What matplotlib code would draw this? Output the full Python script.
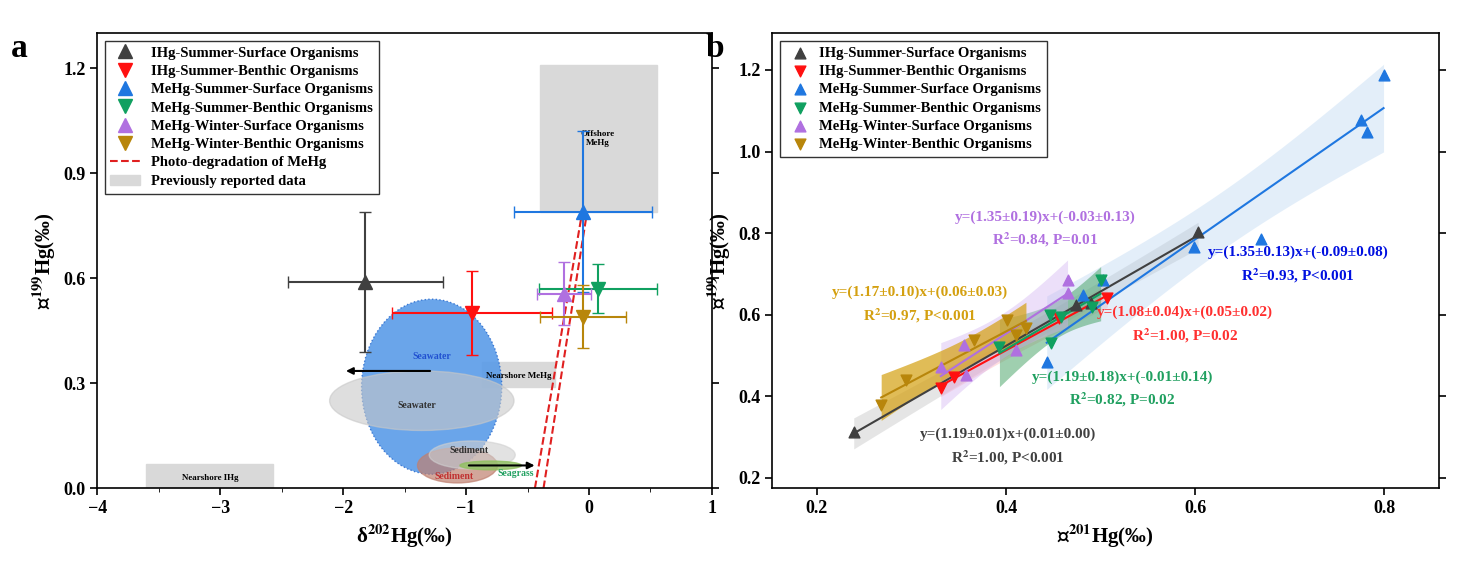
import numpy as np
import matplotlib.pyplot as plt
from matplotlib.patches import Ellipse, Rectangle
from matplotlib.lines import Line2D

plt.rcParams['font.family'] = ['Liberation Serif', 'DejaVu Sans']
plt.rcParams['font.weight'] = 'bold'
plt.rcParams['mathtext.fontset'] = 'stix'

# ---- panel a data ----
names_a = ['IHg-Summer-Surface Organisms', 'IHg-Summer-Benthic Organisms',
           'MeHg-Summer-Surface Organisms', 'MeHg-Summer-Benthic Organisms',
           'MeHg-Winter-Surface Organisms', 'MeHg-Winter-Benthic Organisms']
colors = ['#404040', '#ff1010', '#1f77e0', '#10a060', '#b070e0', '#b8860b']
markers = ['^', 'v', '^', 'v', '^', 'v']
d202 = [-1.82, -0.95, -0.05, 0.07, -0.20, -0.05]
d202_err = [0.63, 0.65, 0.56, 0.48, 0.22, 0.35]
D199 = [0.59, 0.50, 0.79, 0.57, 0.555, 0.49]
D199_err = [0.20, 0.12, 0.23, 0.07, 0.09, 0.09]

# ---- panel b data ----
b_x = [
    [0.239, 0.474, 0.49, 0.603],
    [0.331, 0.345, 0.456, 0.507],
    [0.443, 0.481, 0.502, 0.599, 0.669, 0.775, 0.781, 0.799],
    [0.393, 0.446, 0.448, 0.458, 0.491, 0.500],
    [0.331, 0.356, 0.358, 0.411, 0.465, 0.465],
    [0.268, 0.294, 0.366, 0.401, 0.411, 0.421],
]
b_y = [
    [0.313, 0.624, 0.63, 0.803],
    [0.420, 0.448, 0.592, 0.641],
    [0.484, 0.649, 0.685, 0.766, 0.786, 1.077, 1.048, 1.188],
    [0.521, 0.600, 0.531, 0.595, 0.619, 0.685],
    [0.472, 0.526, 0.452, 0.514, 0.653, 0.685],
    [0.379, 0.440, 0.538, 0.587, 0.550, 0.568],
]
fit_text = ['y=(1.19±0.01)x+(0.01±0.00)\nR$^2$=1.00, P<0.001',
            'y=(1.08±0.04)x+(0.05±0.02)\nR$^2$=1.00, P=0.02',
            'y=(1.35±0.13)x+(-0.09±0.08)\nR$^2$=0.93, P<0.001',
            'y=(1.19±0.18)x+(-0.01±0.14)\nR$^2$=0.82, P=0.02',
            'y=(1.35±0.19)x+(-0.03±0.13)\nR$^2$=0.84, P=0.01',
            'y=(1.17±0.10)x+(0.06±0.03)\nR$^2$=0.97, P<0.001']
text_pos = [(0.402, 0.276), (0.589, 0.575), (0.709, 0.722), (0.523, 0.416), (0.441, 0.808), (0.309, 0.624)]
text_col = ['#404040', '#ff3030', '#0010e0', '#20a060', '#b070e0', '#d4a010']

fig = plt.figure(figsize=(14.74, 5.73), dpi=100)
ax = fig.add_axes([0.066, 0.148, 0.417, 0.794])
bx = fig.add_axes([0.524, 0.148, 0.4525, 0.794])

# panel a background features
ax.add_patch(Rectangle((-0.4, 0.79), 0.95, 0.42, color='#d9d9d9', zorder=0))
ax.add_patch(Rectangle((-0.87, 0.29), 0.59, 0.07, color='#d9d9d9', zorder=0))
ax.add_patch(Rectangle((-3.6, 0.0), 1.03, 0.07, color='#d9d9d9', zorder=0))
ax.add_patch(Ellipse((-1.28, 0.29), 1.14, 0.5, color='#5a9be8', alpha=0.9, ls=':', ec='#3070d0', zorder=1))
ax.add_patch(Ellipse((-1.36, 0.25), 1.5, 0.17, color='#c8c8c8', alpha=0.6, zorder=1))
ax.add_patch(Ellipse((-1.07, 0.065), 0.65, 0.1, color='#c08070', alpha=0.7, zorder=1))
ax.add_patch(Ellipse((-0.95, 0.095), 0.7, 0.08, color='#d0d0d0', alpha=0.6, zorder=1))
ax.add_patch(Ellipse((-0.8, 0.065), 0.5, 0.025, color='#90c060', alpha=0.8, zorder=1))
ax.annotate('', xy=(-2.0, 0.335), xytext=(-1.27, 0.335), arrowprops=dict(arrowstyle='-|>', color='k', lw=1.5))
ax.annotate('', xy=(-0.42, 0.065), xytext=(-1.0, 0.065), arrowprops=dict(arrowstyle='-|>', color='k', lw=1.5))
ax.text(-1.28, 0.37, 'Seawater', color='#2050d0', fontsize=7, ha='center')
ax.text(-1.4, 0.23, 'Seawater', color='#303030', fontsize=7, ha='center')
ax.text(-0.98, 0.1, 'Sediment', color='#303030', fontsize=7, ha='center')
ax.text(-1.1, 0.025, 'Sediment', color='#c03030', fontsize=7, ha='center')
ax.text(-0.6, 0.035, 'Seagrass', color='#20a060', fontsize=7, ha='center')
ax.text(-0.57, 0.32, 'Nearshore MeHg', fontsize=6.5, ha='center', va='center')
ax.text(-3.08, 0.03, 'Nearshore IHg', fontsize=6.5, ha='center', va='center')
ax.text(0.07, 1.0, 'Offshore\nMeHg', fontsize=6.5, ha='center', va='center')

handles = []
for i in range(6):
    ax.errorbar(d202[i], D199[i], xerr=d202_err[i], yerr=D199_err[i], fmt=markers[i],
                color=colors[i], ms=10, capsize=4, lw=1.5, zorder=3)
    handles.append(Line2D([], [], ls='none', marker=markers[i], color=colors[i], ms=10, label=names_a[i]))
ax.plot([-0.44, -0.05], [0.0, 0.80], '--', color='#e02020', lw=1.5, zorder=2)
ax.plot([-0.37, -0.02], [0.0, 0.78], '--', color='#e02020', lw=1.5, zorder=2)
handles.append(Line2D([], [], ls='--', color='#e02020', lw=1.5, label='Photo-degradation of MeHg'))
handles.append(Rectangle((0, 0), 1, 1, color='#d9d9d9', label='Previously reported data'))
ax.legend(handles=handles, loc='upper left', fontsize=10.5, frameon=True, fancybox=False,
          edgecolor='k', handlelength=2, labelspacing=0.35)
ax.set_xlim(-4, 1)
ax.set_ylim(0, 1.30)
ax.set_xticks([-4, -3, -2, -1, 0, 1])
ax.set_yticks([0.0, 0.3, 0.6, 0.9, 1.2])
ax.set_xticks(np.arange(-4, 1.01, 0.5), minor=True)
ax.set_xlabel('δ$^{202}$Hg(‰)', fontsize=15, fontweight='bold')
ax.set_ylabel('△$^{199}$Hg(‰)', fontsize=15, fontweight='bold')
ax.text(-0.14, 1.0, 'a', transform=ax.transAxes, fontsize=24, fontweight='bold', va='top')

# panel b
band_col = ['#c0c0c0', '#ffb0b0', '#b0d0f0', '#40a060', '#d0b0f0', '#d4a010']
band_alpha = [0.4, 0.4, 0.35, 0.5, 0.4, 0.7]
for i in range(6):
    x = np.array(b_x[i]); y = np.array(b_y[i])
    p = np.polyfit(x, y, 1)
    xs = np.linspace(x.min(), x.max(), 50)
    n = len(x)
    res = y - np.polyval(p, x)
    s = np.sqrt(np.sum(res ** 2) / max(n - 2, 1))
    se = s * np.sqrt(1 / n + (xs - x.mean()) ** 2 / np.sum((x - x.mean()) ** 2)) * 2.5
    bx.fill_between(xs, np.polyval(p, xs) - se - 0.01, np.polyval(p, xs) + se + 0.01,
                    color=band_col[i], alpha=band_alpha[i], lw=0, zorder=1)
    bx.plot(xs, np.polyval(p, xs), color=colors[i], lw=1.5, zorder=2)
    bx.scatter(x, y, marker=markers[i], color=colors[i], s=60, label=names_a[i], zorder=3)
    bx.text(text_pos[i][0], text_pos[i][1], fit_text[i], color=text_col[i], fontsize=11,
            ha='center', va='center', linespacing=1.5)
bx.legend(loc='upper left', fontsize=10.5, frameon=True, fancybox=False, edgecolor='k',
          labelspacing=0.35, handletextpad=0.3)
bx.set_xlim(0.153, 0.858)
bx.set_ylim(0.175, 1.29)
bx.set_xticks([0.2, 0.4, 0.6, 0.8])
bx.set_yticks([0.2, 0.4, 0.6, 0.8, 1.0, 1.2])
bx.set_xlabel('△$^{201}$Hg(‰)', fontsize=15, fontweight='bold')
bx.set_ylabel('△$^{199}$Hg(‰)', fontsize=15, fontweight='bold')
bx.text(-0.1, 1.0, 'b', transform=bx.transAxes, fontsize=24, fontweight='bold', va='top')

for a in (ax, bx):
    a.tick_params(labelsize=13, direction='out', width=1.2, length=5, right=True)
    a.tick_params(which='minor', length=3)
    for sp in a.spines.values():
        sp.set_linewidth(1.2)
    for t in a.get_xticklabels() + a.get_yticklabels():
        t.set_fontweight('bold')

fig.savefig('out.png', dpi=100)
